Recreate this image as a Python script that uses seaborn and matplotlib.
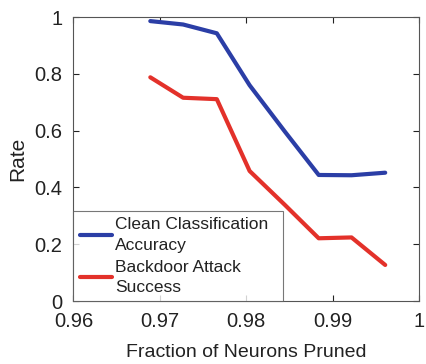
import numpy as np
import pandas as pd
import matplotlib
matplotlib.use('agg')
import seaborn as sns
import matplotlib.pyplot as plt

fraction = [0.9689, 0.9727, 0.9766, 0.9804, 0.9845, 0.9884, 0.9922, 0.9961]
clean_acc = [0.986, 0.974, 0.943, 0.76, 0.596, 0.444, 0.443, 0.452]
attack_success = [0.788, 0.716, 0.711, 0.458, 0.338, 0.221, 0.224, 0.127]
series_names = ["Clean Classification\nAccuracy", "Backdoor Attack\nSuccess"]

df = pd.concat([
	pd.DataFrame({"x": fraction, "rate": clean_acc, "series": series_names[0]}),
	pd.DataFrame({"x": fraction, "rate": attack_success, "series": series_names[1]}),
])

sns.set_style("ticks")
plt.rcParams['font.family'] = ['Liberation Sans', 'DejaVu Sans']

fig = plt.figure(figsize=(4.27, 3.64), dpi=100)
ax = fig.add_axes([0.172, 0.173, 0.809, 0.780])

sns.lineplot(data=df, x="x", y="rate", hue="series", hue_order=series_names,
			palette=["#2b3ea6", "#e3312a"], linewidth=3.0, ax=ax)

ax.set_xlim(0.96, 1.0)
ax.set_ylim(0, 1)
ax.set_xticks([0.96, 0.97, 0.98, 0.99, 1.0])
ax.set_xticklabels(["0.96", "0.97", "0.98", "0.99", "1"])
ax.set_yticks([0, 0.2, 0.4, 0.6, 0.8, 1.0])
ax.set_yticklabels(["0", "0.2", "0.4", "0.6", "0.8", "1"])
ax.tick_params(direction="in", top=True, right=True, labelsize=14.5,
			colors="#222222", length=4, width=0.8)
ax.tick_params(axis="x", pad=8)
ax.tick_params(axis="y", pad=8)
for s in ax.spines.values():
	s.set_visible(True)
	s.set_color("#555555")
	s.set_linewidth(0.8)

ax.set_xlabel("Fraction of Neurons Pruned", fontsize=14, color="#222222", labelpad=9)
ax.set_ylabel("Rate", fontsize=15, color="#222222", labelpad=5)

leg = ax.legend(loc="lower left", bbox_to_anchor=(0, 0, 0.606, 0.33), mode="expand",
				fontsize=12.5, frameon=True, fancybox=False, borderaxespad=0,
				handlelength=1.85, labelspacing=0.4, borderpad=0.35,
				handletextpad=0.2)
leg.get_frame().set_edgecolor("#555555")
leg.get_frame().set_linewidth(0.8)
for line in leg.get_lines():
	line.set_linewidth(3.0)
for t in leg.get_texts():
	t.set_color("#222222")
	t.set_linespacing(1.45)

fig.savefig("out.png", dpi=100)
